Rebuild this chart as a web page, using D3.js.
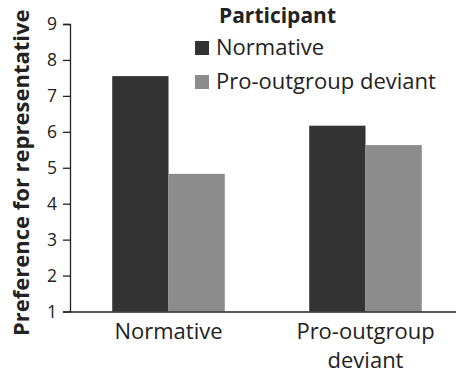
<!DOCTYPE html>
<html><head><meta charset="utf-8">
<script src="https://cdn.jsdelivr.net/npm/d3@7"></script>
<style>body{margin:0;background:#fff}svg{display:block}</style>
</head><body>
<script>
const categories = ["Normative", "Pro-outgroup deviant"];
const categoryLines = [["Normative"], ["Pro-outgroup", "deviant"]];
const series = ["Normative", "Pro-outgroup deviant"];
const normativeValues = [7.55, 6.17];
const deviantValues = [4.83, 5.63];
const yTicks = [1,2,3,4,5,6,7,8,9];
const colors = ["#333333", "#8c8c8c"];
const font = "'Open Sans', sans-serif";

const W = 456, H = 376;
const svg = d3.select("body").append("svg").attr("width", W).attr("height", H);
const x0 = 70, yBottom = 311.5, yTop = 24;

const y = d3.scaleLinear().domain([1, 9]).range([yBottom, yTop]);
const x = d3.scaleBand().domain(categories).range([x0, 464]).paddingInner(0).paddingOuter(0);
const xs = d3.scaleBand().domain(series).range([0, x.bandwidth()]).paddingOuter(0.75).paddingInner(0);

const data = categories.map((c, i) => ({cat: c, vals: [normativeValues[i], deviantValues[i]]}));

const g = svg.append("g");
g.selectAll("g.grp").data(data).join("g").attr("transform", d => `translate(${x(d.cat)},0)`)
  .selectAll("rect").data(d => d.vals.map((v, j) => ({s: series[j], v, j}))).join("rect")
  .attr("x", d => xs(d.s)).attr("width", xs.bandwidth())
  .attr("y", d => y(d.v)).attr("height", d => yBottom - y(d.v))
  .attr("fill", d => colors[d.j]);

// y axis
const ya = svg.append("g").attr("transform", `translate(${x0},0)`)
  .call(d3.axisLeft(y).tickValues(yTicks).tickSize(7).tickPadding(6).tickFormat(d3.format("d")));
ya.select(".domain").attr("stroke", "#222").attr("stroke-width", 1.3);
ya.selectAll(".tick line").attr("stroke", "#222").attr("stroke-width", 1.3);
ya.selectAll("text").attr("font-family", font).attr("font-size", 17.5).attr("fill", "#222");

// x axis
const xa = svg.append("g").attr("transform", `translate(0,${yBottom})`)
  .call(d3.axisBottom(x).tickSize(0).tickFormat(""));
xa.select(".domain").attr("stroke", "#222").attr("stroke-width", 1.3);
xa.selectAll(".tick").each(function(d, i) {
  const t = d3.select(this).append("text").attr("fill", "#222")
    .attr("font-family", font).attr("font-size", 22).attr("text-anchor", "middle");
  categoryLines[i].forEach((ln, k) => t.append("tspan").attr("x", 0).attr("y", 27 + k * 29).text(ln));
});

// y title
svg.append("text").attr("transform", `translate(29,${(yBottom + 12) / 2 + 11}) rotate(-90)`)
  .attr("text-anchor", "middle").attr("font-family", font).attr("font-weight", "bold")
  .attr("font-size", 22).attr("fill", "#222").text("Preference for representative");

// legend
const lg = svg.append("g");
lg.append("text").attr("x", 277.5).attr("y", 23).attr("text-anchor", "middle")
  .attr("font-family", font).attr("font-weight", "bold").attr("font-size", 21).attr("fill", "#222").text("Participant");
series.forEach((s, i) => {
  const yy = 55 + i * 34;
  lg.append("rect").attr("x", 195).attr("y", yy - 14).attr("width", 14).attr("height", 14).attr("fill", colors[i]);
  lg.append("text").attr("x", 216).attr("y", yy).attr("font-family", font).attr("font-size", 22)
    .attr("fill", "#222").text(s);
});
</script>
</body></html>
